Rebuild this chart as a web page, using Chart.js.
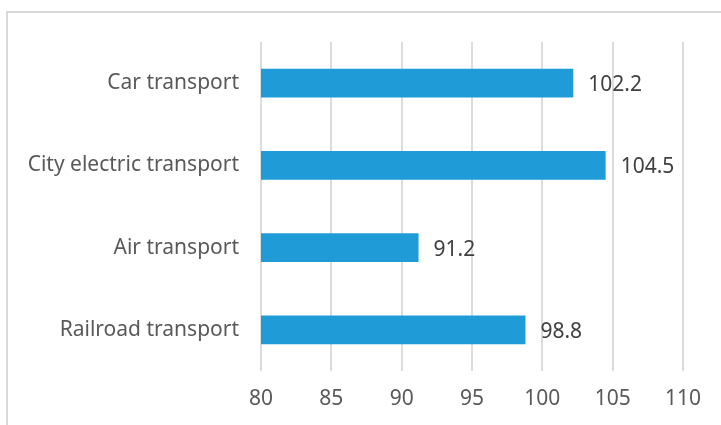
<!DOCTYPE html>
<html>
<head>
<meta charset="utf-8">
<script src="https://cdn.jsdelivr.net/npm/chart.js@4.4.1/dist/chart.umd.min.js"></script>
<style>
  html, body { margin: 0; padding: 0; background: #fff; overflow: hidden; }
  #wrap { position: relative; width: 721px; height: 425px; }
  #frame { position: absolute; left: 6px; top: 11px; width: 800px; height: 500px; border: 2px solid #d9d9d9; box-sizing: border-box; }
  canvas { position: absolute; left: 0; top: 0; }
</style>
</head>
<body>
<div id="wrap">
  <div id="frame"></div>
  <canvas id="c" width="721" height="425"></canvas>
</div>
<script>
const categories = ["Car transport", "City electric transport", "Air transport", "Railroad transport"];
const values = [102.2, 104.5, 91.2, 98.8];
const xTicks = [80, 85, 90, 95, 100, 105, 110];

const FONT = "'Noto Sans', sans-serif";

const valueLabels = {
  id: 'valueLabels',
  afterDatasetsDraw(chart) {
    const ctx = chart.ctx;
    const meta = chart.getDatasetMeta(0);
    ctx.save();
    ctx.font = "21px " + FONT;
    ctx.fillStyle = "#404040";
    ctx.textAlign = "left";
    ctx.textBaseline = "middle";
    meta.data.forEach((bar, i) => {
      ctx.fillText(String(values[i]), bar.x + 15, bar.y + 2);
    });
    ctx.restore();
  }
};

new Chart(document.getElementById('c'), {
  type: 'bar',
  data: {
    labels: categories,
    datasets: [{
      data: values,
      backgroundColor: '#1f9cd8',
      borderWidth: 0,
      barPercentage: 0.35,
      categoryPercentage: 1.0
    }]
  },
  options: {
    indexAxis: 'y',
    responsive: false,
    animation: false,
    layout: { padding: { top: 42, right: 38, left: 0, bottom: 0 } },
    plugins: { legend: { display: false }, tooltip: { enabled: false } },
    scales: {
      x: {
        min: 80, max: 110,
        afterBuildTicks(scale) { scale.ticks = xTicks.map(v => ({ value: v })); },
        afterFit(scale) { scale.height = 54; },
        grid: { color: '#dcdcdc', lineWidth: 2, drawTicks: false },
        border: { display: false },
        ticks: { color: '#595959', font: { family: FONT, size: 21 }, padding: 15 }
      },
      y: {
        afterFit(scale) { scale.width = 261; },
        grid: { display: false, drawTicks: false },
        border: { display: false },
        ticks: { color: '#595959', font: { family: FONT, size: 21 }, padding: 22 }
      }
    }
  },
  plugins: [valueLabels]
});
</script>
</body>
</html>
